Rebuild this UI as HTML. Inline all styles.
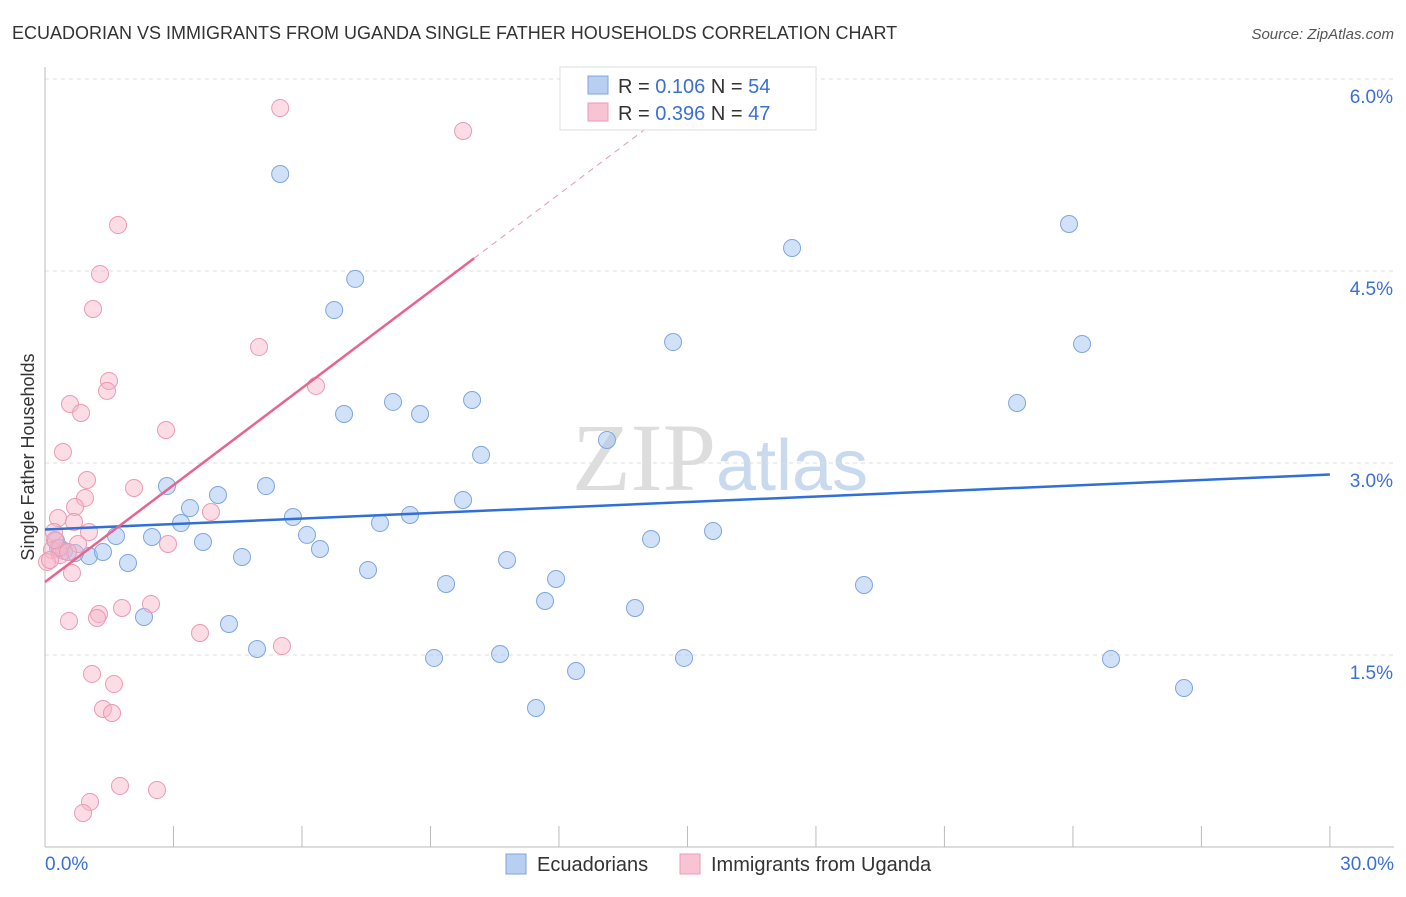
<!DOCTYPE html>
<html><head><meta charset="utf-8"><style>
body{margin:0;background:#fff;font-family:"Liberation Sans",sans-serif}
</style></head><body>
<svg id="chart" width="1406" height="892" xmlns="http://www.w3.org/2000/svg" font-family="Liberation Sans, sans-serif">
<text x="12" y="39" font-size="18" fill="#333">ECUADORIAN VS IMMIGRANTS FROM UGANDA SINGLE FATHER HOUSEHOLDS CORRELATION CHART</text>
<text x="1394" y="39" font-size="15" fill="#555" text-anchor="end" font-style="italic">Source: ZipAtlas.com</text>
<text x="720" y="490" font-size="96" fill="#ddd" text-anchor="middle" font-family="Liberation Serif, serif">ZIP<tspan fill="#c9d9ee" font-family="Liberation Sans, sans-serif" font-size="72">atlas</tspan></text>
<text transform="translate(34,457) rotate(-90)" font-size="18" fill="#333" text-anchor="middle">Single Father Households</text>
<g id="grid"></g><g id="axes"></g><g id="marks"></g>
<g>
<rect x="560" y="67" width="256" height="63" fill="#fff" stroke="#ddd"/>
<rect x="588" y="76" width="20" height="18" fill="#b8cff2" stroke="#7fa6e0"/>
<text x="618" y="93" font-size="20" fill="#333">R = <tspan fill="#3b6fd6">0.106</tspan>    N = <tspan fill="#3b6fd6">54</tspan></text>
<rect x="588" y="103" width="20" height="18" fill="#f8c4d4" stroke="#eb9ab4"/>
<text x="618" y="120" font-size="20" fill="#333">R = <tspan fill="#3b6fd6">0.396</tspan>    N = <tspan fill="#3b6fd6">47</tspan></text>
</g>
<g>
<rect x="506" y="854" width="20" height="20" fill="#b8cff2" stroke="#7fa6e0"/>
<text x="537" y="871" font-size="20" fill="#333">Ecuadorians</text>
<rect x="680" y="854" width="20" height="20" fill="#f8c4d4" stroke="#eb9ab4"/>
<text x="711" y="871" font-size="20" fill="#333">Immigrants from Uganda</text>
</g>
</svg>
<script>
const yTicks=[1.5,3.0,4.5,6.0];
const yTickLabels=["1.5%","3.0%","4.5%","6.0%"];
const xTickLabels=["0.0%","30.0%"];
const blueX=[5.491,7.242,6.752,23.909,17.442,14.664,24.213,22.696,8.125,6.982,8.757,9.971,13.121,10.181,2.848,5.160,4.039,3.385,9.761,3.175,5.790,8.523,7.822,15.597,1.658,2.498,6.117,3.689,14.150,6.420,0.257,0.444,1.028,1.354,1.938,4.600,10.788,7.542,11.932,9.364,19.122,11.675,13.775,2.311,4.296,4.950,9.084,10.625,14.920,12.399,24.889,26.594,11.464,0.304,0.701];
const blueY=[5.258,4.438,4.195,4.867,4.680,3.945,3.930,3.469,3.477,3.383,3.383,3.492,3.180,3.063,2.820,2.820,2.750,2.648,2.711,2.531,2.578,2.594,2.531,2.469,2.430,2.422,2.438,2.383,2.406,2.328,2.391,2.313,2.273,2.305,2.219,2.266,2.242,2.164,2.094,2.055,2.047,1.922,1.867,1.797,1.742,1.547,1.477,1.508,1.477,1.375,1.469,1.242,1.086,2.336,2.297];
const pinkX=[5.491,9.761,1.705,1.284,1.121,4.997,1.494,1.448,6.327,0.584,0.841,2.825,0.420,0.981,2.078,0.934,3.875,0.701,0.304,0.678,1.028,0.210,2.872,0.771,0.163,0.350,0.047,0.630,1.798,2.475,1.261,0.560,1.214,3.619,5.533,1.097,1.611,1.354,1.564,1.751,2.615,1.051,0.888,0.350,0.537,0.117,0.233];
const pinkY=[5.773,5.594,4.859,4.477,4.203,3.906,3.641,3.563,3.602,3.461,3.391,3.258,3.086,2.867,2.805,2.727,2.617,2.656,2.570,2.539,2.461,2.461,2.367,2.367,2.320,2.281,2.227,2.141,1.867,1.898,1.820,1.766,1.789,1.672,1.570,1.352,1.273,1.078,1.047,0.477,0.445,0.352,0.266,2.336,2.305,2.242,2.398];
const blueTrend=[2.48,2.91];
const pinkTrend=[2.07,4.60,5.63];
const pinkTrendX=[0,10.02,14.1];
const NS="http://www.w3.org/2000/svg";
const X=v=>45+v*42.83, Y=v=>847-v*128;
function mk(tag,attrs,parent){const e=document.createElementNS(NS,tag);for(const k in attrs)e.setAttribute(k,attrs[k]);document.getElementById(parent).appendChild(e);return e;}
yTicks.forEach((t,i)=>{
 const g=mk('line',{x1:45,x2:1394,y1:Y(t),y2:Y(t),stroke:'#ddd','stroke-dasharray':'4,4'},'grid');
 
 
 const l=mk('text',{x:1393,y:Y(t)+24,'font-size':19,fill:'#3b6fd6','text-anchor':'end'},'axes');
 l.textContent=yTickLabels[i];
 
 
});
const ax=mk('line',{x1:45,x2:45,y1:67,y2:847,stroke:'#bbb'},'axes');


const bx=mk('line',{x1:45,x2:1394,y1:847,y2:847,stroke:'#bbb'},'axes');


for(let i=0;i<=10;i++){const t=mk('line',{x1:X(i*3),x2:X(i*3),y1:826,y2:847,stroke:'#bbb'},'axes');
 
 }
[[0,'start',45],[30,'end',1394]].forEach((d,i)=>{const t=mk('text',{x:d[2],y:870,'font-size':19,fill:'#3b6fd6','text-anchor':d[1]},'axes');t.textContent=xTickLabels[i];
 
 });
blueX.forEach((v,i)=>{const c=mk('circle',{cx:X(v),cy:Y(blueY[i]),r:8.5,fill:'rgba(164,196,240,0.5)',stroke:'#7fa6e0','stroke-width':1},'marks');
 
 });
pinkX.forEach((v,i)=>{const c=mk('circle',{cx:X(v),cy:Y(pinkY[i]),r:8.5,fill:'rgba(248,180,200,0.45)',stroke:'#eb9ab4','stroke-width':1},'marks');
 
 });
const bl=mk('line',{x1:X(0),y1:Y(blueTrend[0]),x2:X(30),y2:Y(blueTrend[1]),stroke:'#2f6fd6','stroke-width':2.5},'marks');


const pl=mk('line',{x1:X(pinkTrendX[0]),y1:Y(pinkTrend[0]),x2:X(pinkTrendX[1]),y2:Y(pinkTrend[1]),stroke:'#e8648f','stroke-width':2.5},'marks');


const pd=mk('line',{x1:X(pinkTrendX[1]),y1:Y(pinkTrend[1]),x2:X(pinkTrendX[2]),y2:Y(pinkTrend[2]),stroke:'#eb9ab4','stroke-width':1,'stroke-dasharray':'6,5'},'marks');


</script>
</body></html>
